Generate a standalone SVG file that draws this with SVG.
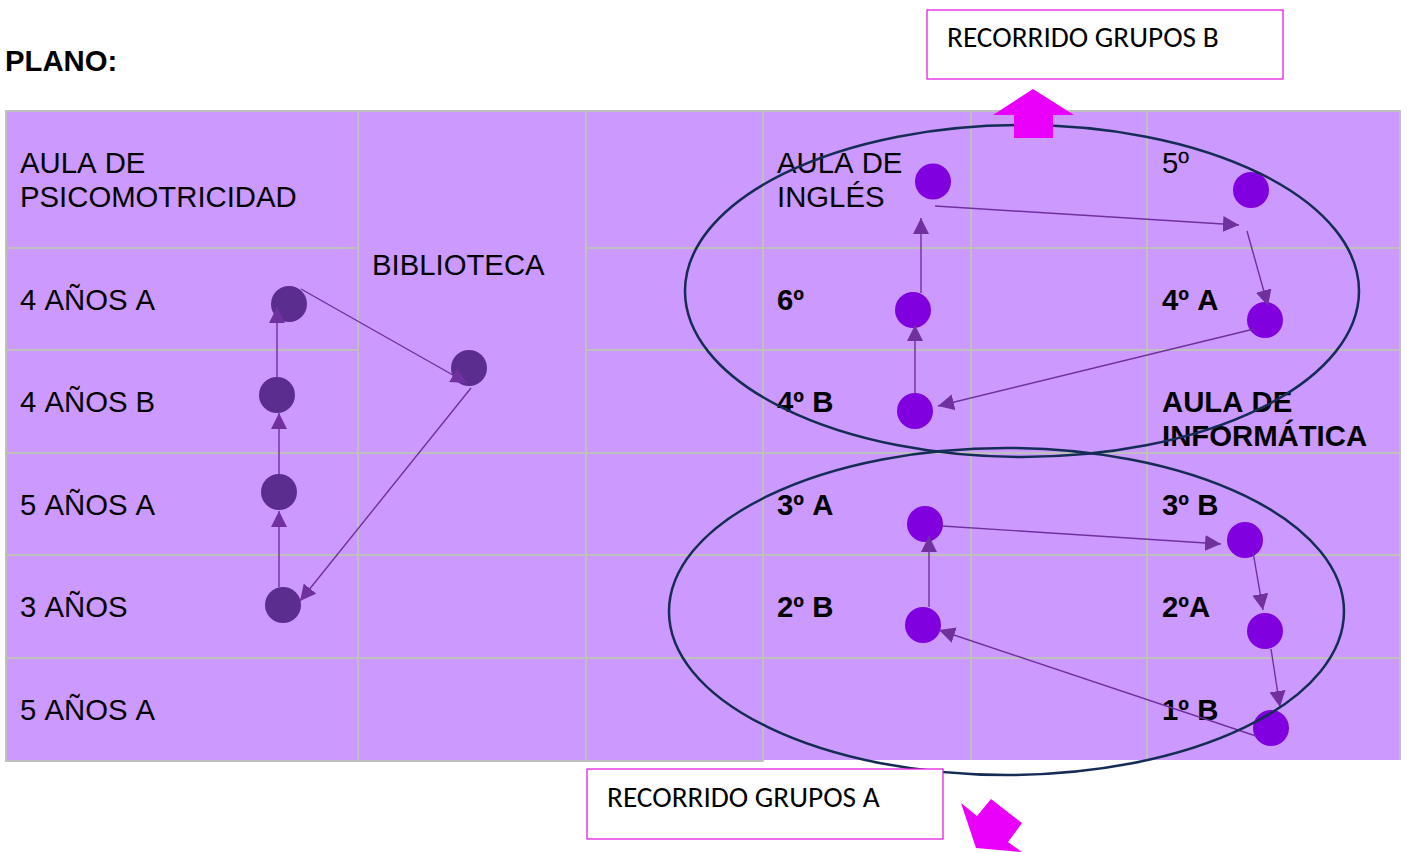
<svg xmlns="http://www.w3.org/2000/svg" width="1407" height="852" viewBox="0 0 1407 852">
<defs>
<marker id="ah" markerUnits="userSpaceOnUse" markerWidth="18" markerHeight="16" refX="16" refY="8" orient="auto"><path d="M0 0L16 8L0 16Z" fill="#7030a0"/></marker>
</defs>
<style>
.g{stroke:#bfbfbf;stroke-width:2;fill:none}
.t{font:29.300px "Liberation Sans",Arial,sans-serif;fill:#000;font-kerning:none}
.b{font:bold 29.300px "Liberation Sans",Arial,sans-serif;fill:#000;font-kerning:none}
.c{font:29.300px "Carlito","Open Sans","Noto Sans",sans-serif;fill:#000}
.d1{fill:#5b2d8e}.d2{fill:#8000e0}
.l{stroke:#7030a0;stroke-width:1.4;fill:none;marker-end:url(#ah)}
.e{fill:none;stroke:#152c55;stroke-width:2.5}
.box{fill:#fff;stroke:#e020e0;stroke-width:1.3}
.mg{fill:#ea00fa}
</style>
<rect width="1407" height="852" fill="#fff"/>
<g id="grid">
<rect x="6" y="111" width="1394" height="649" fill="#cc99ff"/>
<path class="g" d="M1400 760V111H6V761H763.500M358 111V761M586 111V761M763 111V761M971 111V760M1147 111V760M7 248H358M586 248H1400M7 350H358M586 350H1400M7 453H1400M7 555H1400M7 658H1400"/>
</g>
<text class="b" x="5" y="71">PLANO:</text>
<g id="labels">
<text class="t" x="20" y="173">AULA DE</text>
<text class="t" x="20" y="207">PSICOMOTRICIDAD</text>
<text class="t" x="20" y="310">4 AÑOS A</text>
<text class="t" x="20" y="412">4 AÑOS B</text>
<text class="t" x="20" y="515">5 AÑOS A</text>
<text class="t" x="20" y="617">3 AÑOS</text>
<text class="t" x="20" y="720">5 AÑOS A</text>
<text class="t" x="372" y="275">BIBLIOTECA</text>
<text class="t" x="777" y="173">AULA DE</text>
<text class="t" x="777" y="207">INGLÉS</text>
<text class="t" x="1162" y="173">5º</text>
<text class="b" x="777" y="310">6º</text>
<text class="b" x="1162" y="310">4º A</text>
<text class="b" x="777" y="412">4º B</text>
<text class="b" x="1162" y="412">AULA DE</text>
<text class="b" x="1162" y="446">INFORMÁTICA</text>
<text class="b" x="777" y="515">3º A</text>
<text class="b" x="1162" y="515">3º B</text>
<text class="b" x="777" y="617">2º B</text>
<text class="b" x="1162" y="617">2ºA</text>
<text class="b" x="1162" y="720">1º B</text>
</g>
<g id="dots">
<circle class="d1" cx="289" cy="304" r="18"/>
<circle class="d1" cx="277" cy="395" r="18"/>
<circle class="d1" cx="279" cy="492" r="18"/>
<circle class="d1" cx="283" cy="605" r="18"/>
<circle class="d1" cx="469" cy="368" r="18"/>
<circle class="d2" cx="933" cy="181.500" r="18"/>
<circle class="d2" cx="1251" cy="190" r="18"/>
<circle class="d2" cx="913" cy="310" r="18"/>
<circle class="d2" cx="1265" cy="320" r="18"/>
<circle class="d2" cx="915" cy="411" r="18"/>
<circle class="d2" cx="925" cy="524" r="18"/>
<circle class="d2" cx="1245" cy="540" r="18"/>
<circle class="d2" cx="923" cy="625" r="18"/>
<circle class="d2" cx="1265" cy="631" r="18"/>
<circle class="d2" cx="1271" cy="728" r="18"/>
</g>
<g id="connectors">
<path class="l" d="M279 587V511"/>
<path class="l" d="M279 474V413"/>
<path class="l" d="M277 377V307"/>
<path class="l" d="M301 289L467 383"/>
<path class="l" d="M471 388L300 601"/>
<path class="l" d="M915 393V325"/>
<path class="l" d="M921 293V218"/>
<path class="l" d="M935 206L1239 225"/>
<path class="l" d="M1247 231L1268 306"/>
<path class="l" d="M1254 329L938 406"/>
<path class="l" d="M942 526L1221 544"/>
<path class="l" d="M1253 552L1263 610"/>
<path class="l" d="M1271 649L1280 707"/>
<path class="l" d="M1256 736L939 630"/>
<path class="l" d="M929 607V536"/>
</g>
<g id="ellipses">
<ellipse class="e" cx="1022" cy="291" rx="337" ry="166"/>
<ellipse class="e" cx="1006.500" cy="611.500" rx="337.500" ry="163.500"/>
</g>
<g id="box-b">
<rect class="box" x="927" y="10" width="356" height="69"/>
<text class="c" x="947" y="47">RECORRIDO GRUPOS B</text>
</g>
<g id="box-a">
<rect class="box" x="587" y="769" width="356" height="70"/>
<text class="c" x="607" y="807">RECORRIDO GRUPOS A</text>
</g>
<path id="arrow-up" class="mg" d="M1033 89L1074 115H1053V138H1014V115H993Z"/>
<path id="arrow-down" class="mg" d="M961 803L977 816L991 799L1022 823L1008 842L1022 852L976 848Z"/>
</svg>
